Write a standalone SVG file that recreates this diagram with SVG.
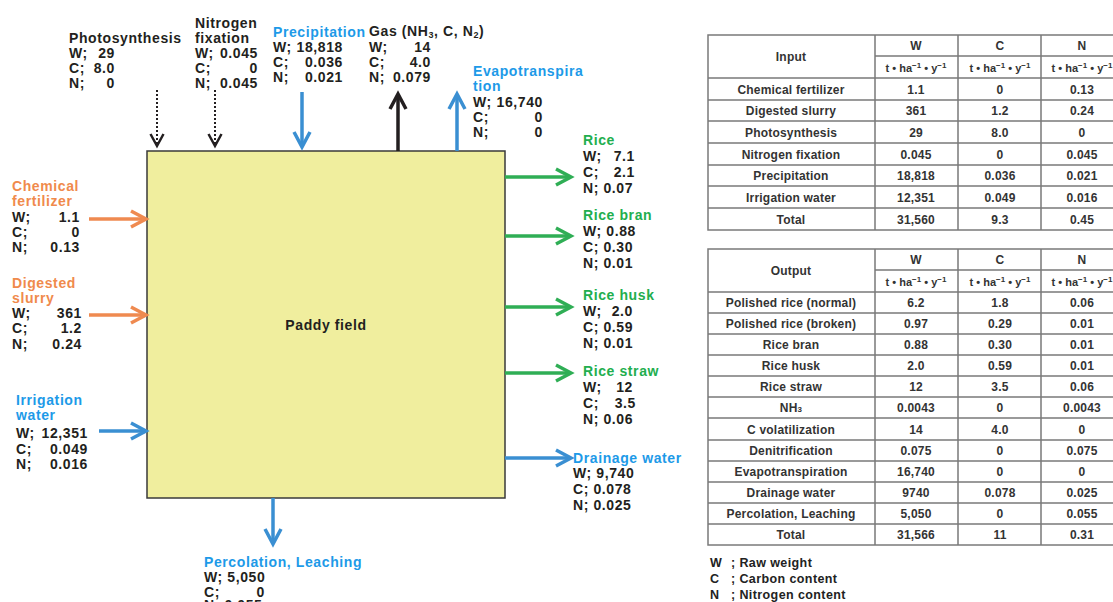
<svg xmlns="http://www.w3.org/2000/svg" width="1113" height="602" viewBox="0 0 1113 602">
<style>
.l{font-family:"Liberation Sans",Arial,sans-serif;font-weight:bold;font-size:14px;fill:#231f20;letter-spacing:0.6px}
.e{text-anchor:end}
.blue{fill:#1d9ae8}
.org{fill:#f08a4c}
.grn{fill:#22ae4e}
.tb{font-family:"Liberation Sans",Arial,sans-serif;font-weight:bold;font-size:12px;fill:#333;text-anchor:middle;letter-spacing:0.2px}
.u{font-size:11px;letter-spacing:0}
.sm{font-size:8px}
.grid{stroke:#7a7a7a;stroke-width:1.5;fill:none}
.lg{font-family:"Liberation Sans",Arial,sans-serif;font-weight:bold;font-size:12.5px;fill:#222;letter-spacing:0.4px}
.ab{stroke:#3a8fd2;stroke-width:3.5;fill:none}
.ao{stroke:#ef8a50;stroke-width:3.5;fill:none}
.ag{stroke:#2fae55;stroke-width:3.5;fill:none}
.ak{stroke:#231f20;stroke-width:3.5;fill:none}
.ad{stroke:#231f20;stroke-width:2;stroke-dasharray:2 2;fill:none}
</style>
<defs>
<marker id="hb" markerUnits="userSpaceOnUse" markerWidth="20" markerHeight="20" refX="0" refY="0" orient="auto" overflow="visible"><path d="M-15,-8 L0,0 L-15,8" fill="none" stroke="#3a8fd2" stroke-width="3.5"/></marker>
<marker id="ho" markerUnits="userSpaceOnUse" markerWidth="20" markerHeight="20" refX="0" refY="0" orient="auto" overflow="visible"><path d="M-15,-8 L0,0 L-15,8" fill="none" stroke="#ef8a50" stroke-width="3.5"/></marker>
<marker id="hg" markerUnits="userSpaceOnUse" markerWidth="20" markerHeight="20" refX="0" refY="0" orient="auto" overflow="visible"><path d="M-15,-8 L0,0 L-15,8" fill="none" stroke="#2fae55" stroke-width="3.5"/></marker>
<marker id="hk" markerUnits="userSpaceOnUse" markerWidth="20" markerHeight="20" refX="0" refY="0" orient="auto" overflow="visible"><path d="M-15,-8 L0,0 L-15,8" fill="none" stroke="#231f20" stroke-width="3.5"/></marker>
<marker id="hd" markerUnits="userSpaceOnUse" markerWidth="20" markerHeight="20" refX="0" refY="0" orient="auto" overflow="visible"><path d="M-12,-6.5 L0,0 L-12,6.5" fill="none" stroke="#231f20" stroke-width="2.5"/></marker>
</defs>
<rect width="1113" height="602" fill="#fff"/>

<g id="paddy-field">
<rect x="147" y="151" width="358" height="347" fill="#f0ee9e" stroke="#3a3a3a" stroke-width="1.5"/>
<text class="l" x="326" y="330" text-anchor="middle">Paddy field</text>
</g>

<g id="connectors">
<line class="ad" x1="157" y1="90" x2="157" y2="146" marker-end="url(#hd)"/>
<line class="ad" x1="215" y1="90" x2="215" y2="146" marker-end="url(#hd)"/>
<line class="ab" x1="302" y1="92" x2="302" y2="147" marker-end="url(#hb)"/>
<line class="ak" x1="398" y1="151" x2="398" y2="94" marker-end="url(#hk)"/>
<line class="ab" x1="457" y1="151" x2="457" y2="94" marker-end="url(#hb)"/>
<line class="ao" x1="89" y1="219" x2="146" y2="219" marker-end="url(#ho)"/>
<line class="ao" x1="89" y1="315" x2="146" y2="315" marker-end="url(#ho)"/>
<line class="ab" x1="99" y1="431" x2="146" y2="431" marker-end="url(#hb)"/>
<line class="ag" x1="505" y1="177" x2="571" y2="177" marker-end="url(#hg)"/>
<line class="ag" x1="505" y1="236" x2="571" y2="236" marker-end="url(#hg)"/>
<line class="ag" x1="505" y1="307" x2="571" y2="307" marker-end="url(#hg)"/>
<line class="ag" x1="505" y1="373" x2="571" y2="373" marker-end="url(#hg)"/>
<line class="ab" x1="505" y1="458" x2="571" y2="458" marker-end="url(#hb)"/>
<line class="ab" x1="273" y1="498" x2="273" y2="544" marker-end="url(#hb)"/>
</g>

<g id="photosynthesis">
<text class="l" x="69" y="43">Photosynthesis</text>
<text class="l" x="69" y="58">W;</text><text class="l e" x="115" y="58">29</text>
<text class="l" x="69" y="73">C;</text><text class="l e" x="115" y="73">8.0</text>
<text class="l" x="69" y="88">N;</text><text class="l e" x="115" y="88">0</text>
</g>
<g id="nitrogen-fixation">
<text class="l" x="195" y="28">Nitrogen</text>
<text class="l" x="195" y="43">fixation</text>
<text class="l" x="195" y="58">W;</text><text class="l e" x="258" y="58">0.045</text>
<text class="l" x="195" y="73">C;</text><text class="l e" x="258" y="73">0</text>
<text class="l" x="195" y="88">N;</text><text class="l e" x="258" y="88">0.045</text>
</g>
<g id="precipitation">
<text class="l blue" x="273" y="37">Precipitation</text>
<text class="l" x="273" y="52">W;</text><text class="l e" x="343" y="52">18,818</text>
<text class="l" x="273" y="67">C;</text><text class="l e" x="343" y="67">0.036</text>
<text class="l" x="273" y="82">N;</text><text class="l e" x="343" y="82">0.021</text>
</g>
<g id="gas">
<text class="l" x="369" y="36">Gas (NH<tspan font-size="9" dy="2">3</tspan><tspan dy="-2">, C, N</tspan><tspan font-size="9" dy="2">2</tspan><tspan dy="-2">)</tspan></text>
<text class="l" x="369" y="52">W;</text><text class="l e" x="431" y="52">14</text>
<text class="l" x="369" y="67">C;</text><text class="l e" x="431" y="67">4.0</text>
<text class="l" x="369" y="82">N;</text><text class="l e" x="431" y="82">0.079</text>
</g>
<g id="evapotranspiration">
<text class="l blue" x="473" y="76">Evapotranspira</text>
<text class="l blue" x="473" y="91">tion</text>
<text class="l" x="473" y="107">W;</text><text class="l e" x="543" y="107">16,740</text>
<text class="l" x="473" y="122">C;</text><text class="l e" x="543" y="122">0</text>
<text class="l" x="473" y="137">N;</text><text class="l e" x="543" y="137">0</text>
</g>
<g id="chemical-fertilizer">
<text class="l org" x="12" y="191">Chemical</text>
<text class="l org" x="12" y="206">fertilizer</text>
<text class="l" x="12" y="222">W;</text><text class="l e" x="80" y="222">1.1</text>
<text class="l" x="12" y="237">C;</text><text class="l e" x="80" y="237">0</text>
<text class="l" x="12" y="252">N;</text><text class="l e" x="80" y="252">0.13</text>
</g>
<g id="digested-slurry">
<text class="l org" x="12" y="288">Digested</text>
<text class="l org" x="12" y="303">slurry</text>
<text class="l" x="12" y="318">W;</text><text class="l e" x="82" y="318">361</text>
<text class="l" x="12" y="333">C;</text><text class="l e" x="82" y="333">1.2</text>
<text class="l" x="12" y="349">N;</text><text class="l e" x="82" y="349">0.24</text>
</g>
<g id="irrigation-water">
<text class="l blue" x="16" y="405">Irrigation</text>
<text class="l blue" x="16" y="420">water</text>
<text class="l" x="16" y="438">W;</text><text class="l e" x="88" y="438">12,351</text>
<text class="l" x="16" y="454">C;</text><text class="l e" x="88" y="454">0.049</text>
<text class="l" x="16" y="469">N;</text><text class="l e" x="88" y="469">0.016</text>
</g>
<g id="rice">
<text class="l grn" x="583" y="145">Rice</text>
<text class="l" x="583" y="161">W;</text><text class="l e" x="635" y="161">7.1</text>
<text class="l" x="583" y="177">C;</text><text class="l e" x="635" y="177">2.1</text>
<text class="l" x="583" y="193">N; 0.07</text>
</g>
<g id="rice-bran">
<text class="l grn" x="583" y="220">Rice bran</text>
<text class="l" x="583" y="236">W; 0.88</text>
<text class="l" x="583" y="252">C; 0.30</text>
<text class="l" x="583" y="268">N; 0.01</text>
</g>
<g id="rice-husk">
<text class="l grn" x="583" y="300">Rice husk</text>
<text class="l" x="583" y="316">W;</text><text class="l e" x="633" y="316">2.0</text>
<text class="l" x="583" y="332">C; 0.59</text>
<text class="l" x="583" y="348">N; 0.01</text>
</g>
<g id="rice-straw">
<text class="l grn" x="583" y="376">Rice straw</text>
<text class="l" x="583" y="392">W;</text><text class="l e" x="633" y="392">12</text>
<text class="l" x="583" y="408">C;</text><text class="l e" x="636" y="408">3.5</text>
<text class="l" x="583" y="424">N; 0.06</text>
</g>
<g id="drainage-water">
<text class="l blue" x="573" y="463">Drainage water</text>
<text class="l" x="573" y="478">W; 9,740</text>
<text class="l" x="573" y="494">C; 0.078</text>
<text class="l" x="573" y="510">N; 0.025</text>
</g>
<g id="percolation-leaching">
<text class="l blue" x="204" y="567">Percolation, Leaching</text>
<text class="l" x="204" y="582">W; 5,050</text>
<text class="l" x="204" y="597">C;</text><text class="l e" x="265" y="597">0</text>
<text class="l" x="204" y="610">N; 0.055</text>
</g>

<g id="input-table">
<rect class="grid" x="708" y="35" width="416" height="195"/>
<path class="grid" d="M875,35V230M958,35V230M1041,35V230M875,56H1124M708,78H1124M708,100H1124M708,121H1124M708,143H1124M708,165H1124M708,186H1124M708,208H1124"/>
<text class="tb" x="791" y="61">Input</text>
<text class="tb" x="916" y="50">W</text><text class="tb" x="1000" y="50">C</text><text class="tb" x="1082" y="50">N</text>
<text class="tb u" x="916" y="72">t • ha<tspan class="sm" dy="-4">−1</tspan><tspan dy="4"> • y</tspan><tspan class="sm" dy="-4">−1</tspan></text>
<text class="tb u" x="1000" y="72">t • ha<tspan class="sm" dy="-4">−1</tspan><tspan dy="4"> • y</tspan><tspan class="sm" dy="-4">−1</tspan></text>
<text class="tb u" x="1082" y="72">t • ha<tspan class="sm" dy="-4">−1</tspan><tspan dy="4"> • y</tspan><tspan class="sm" dy="-4">−1</tspan></text>
<text class="tb" x="791" y="93.5">Chemical fertilizer</text><text class="tb" x="916" y="93.5">1.1</text><text class="tb" x="1000" y="93.5">0</text><text class="tb" x="1082" y="93.5">0.13</text>
<text class="tb" x="791" y="115">Digested slurry</text><text class="tb" x="916" y="115">361</text><text class="tb" x="1000" y="115">1.2</text><text class="tb" x="1082" y="115">0.24</text>
<text class="tb" x="791" y="136.5">Photosynthesis</text><text class="tb" x="916" y="136.5">29</text><text class="tb" x="1000" y="136.5">8.0</text><text class="tb" x="1082" y="136.5">0</text>
<text class="tb" x="791" y="158.5">Nitrogen fixation</text><text class="tb" x="916" y="158.5">0.045</text><text class="tb" x="1000" y="158.5">0</text><text class="tb" x="1082" y="158.5">0.045</text>
<text class="tb" x="791" y="180">Precipitation</text><text class="tb" x="916" y="180">18,818</text><text class="tb" x="1000" y="180">0.036</text><text class="tb" x="1082" y="180">0.021</text>
<text class="tb" x="791" y="201.5">Irrigation water</text><text class="tb" x="916" y="201.5">12,351</text><text class="tb" x="1000" y="201.5">0.049</text><text class="tb" x="1082" y="201.5">0.016</text>
<text class="tb" x="791" y="223.5">Total</text><text class="tb" x="916" y="223.5">31,560</text><text class="tb" x="1000" y="223.5">9.3</text><text class="tb" x="1082" y="223.5">0.45</text>
</g>

<g id="output-table">
<rect class="grid" x="708" y="249" width="416" height="296"/>
<path class="grid" d="M875,249V545M958,249V545M1041,249V545M875,270H1124M708,292H1124M708,313H1124M708,334H1124M708,355H1124M708,376H1124M708,397H1124M708,418H1124M708,440H1124M708,461H1124M708,482H1124M708,503H1124M708,524H1124"/>
<text class="tb" x="791" y="275">Output</text>
<text class="tb" x="916" y="264">W</text><text class="tb" x="1000" y="264">C</text><text class="tb" x="1082" y="264">N</text>
<text class="tb u" x="916" y="286">t • ha<tspan class="sm" dy="-4">−1</tspan><tspan dy="4"> • y</tspan><tspan class="sm" dy="-4">−1</tspan></text>
<text class="tb u" x="1000" y="286">t • ha<tspan class="sm" dy="-4">−1</tspan><tspan dy="4"> • y</tspan><tspan class="sm" dy="-4">−1</tspan></text>
<text class="tb u" x="1082" y="286">t • ha<tspan class="sm" dy="-4">−1</tspan><tspan dy="4"> • y</tspan><tspan class="sm" dy="-4">−1</tspan></text>
<text class="tb" x="791" y="307">Polished rice (normal)</text><text class="tb" x="916" y="307">6.2</text><text class="tb" x="1000" y="307">1.8</text><text class="tb" x="1082" y="307">0.06</text>
<text class="tb" x="791" y="328">Polished rice (broken)</text><text class="tb" x="916" y="328">0.97</text><text class="tb" x="1000" y="328">0.29</text><text class="tb" x="1082" y="328">0.01</text>
<text class="tb" x="791" y="349">Rice bran</text><text class="tb" x="916" y="349">0.88</text><text class="tb" x="1000" y="349">0.30</text><text class="tb" x="1082" y="349">0.01</text>
<text class="tb" x="791" y="370">Rice husk</text><text class="tb" x="916" y="370">2.0</text><text class="tb" x="1000" y="370">0.59</text><text class="tb" x="1082" y="370">0.01</text>
<text class="tb" x="791" y="391">Rice straw</text><text class="tb" x="916" y="391">12</text><text class="tb" x="1000" y="391">3.5</text><text class="tb" x="1082" y="391">0.06</text>
<text class="tb" x="791" y="412">NH<tspan font-size="8">3</tspan></text><text class="tb" x="916" y="412">0.0043</text><text class="tb" x="1000" y="412">0</text><text class="tb" x="1082" y="412">0.0043</text>
<text class="tb" x="791" y="433.5">C volatilization</text><text class="tb" x="916" y="433.5">14</text><text class="tb" x="1000" y="433.5">4.0</text><text class="tb" x="1082" y="433.5">0</text>
<text class="tb" x="791" y="455">Denitrification</text><text class="tb" x="916" y="455">0.075</text><text class="tb" x="1000" y="455">0</text><text class="tb" x="1082" y="455">0.075</text>
<text class="tb" x="791" y="476">Evapotranspiration</text><text class="tb" x="916" y="476">16,740</text><text class="tb" x="1000" y="476">0</text><text class="tb" x="1082" y="476">0</text>
<text class="tb" x="791" y="497">Drainage water</text><text class="tb" x="916" y="497">9740</text><text class="tb" x="1000" y="497">0.078</text><text class="tb" x="1082" y="497">0.025</text>
<text class="tb" x="791" y="518">Percolation, Leaching</text><text class="tb" x="916" y="518">5,050</text><text class="tb" x="1000" y="518">0</text><text class="tb" x="1082" y="518">0.055</text>
<text class="tb" x="791" y="539">Total</text><text class="tb" x="916" y="539">31,566</text><text class="tb" x="1000" y="539">11</text><text class="tb" x="1082" y="539">0.31</text>
</g>

<g id="legend">
<text class="lg" x="710" y="567">W</text><text class="lg" x="731" y="567">; Raw weight</text>
<text class="lg" x="710" y="583">C</text><text class="lg" x="731" y="583">; Carbon content</text>
<text class="lg" x="710" y="599">N</text><text class="lg" x="731" y="599">; Nitrogen content</text>
</g>
</svg>
